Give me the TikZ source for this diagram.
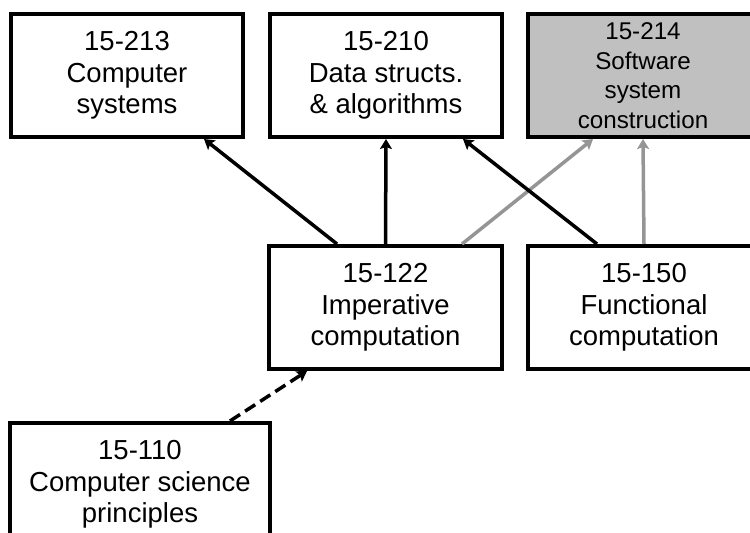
\documentclass[tikz,border=0pt]{standalone}
\usepackage{fontspec}
\setmainfont{Liberation Sans}
\usetikzlibrary{arrows.meta}
\definecolor{boxgrey}{HTML}{C0C0C0}
\definecolor{arrgrey}{HTML}{959595}
\begin{document}
\begin{tikzpicture}[x=1pt,y=-1pt,
  course/.style={draw=black,line width=4pt,rectangle,minimum width=232pt,minimum height=123pt,
    align=center,inner sep=0pt,font=\fontsize{27.5}{31.5}\selectfont},
  smallcourse/.style={course,font=\fontsize{24.2}{29.5}\selectfont},
  req/.style={line width=3.5pt,-{Stealth[length=10pt,width=12pt,inset=2pt]}},
  greyreq/.style={req,draw=arrgrey},
  optreq/.style={req,dash pattern=on 12pt off 6pt}]
\useasboundingbox (0,0) rectangle (750,533);
\node[course] (n213) at (127,75.5) {15-213\\Computer\\systems};
\node[course] (n210) at (386,75.5) {15-210\\Data structs.\\\& algorithms};
\node[smallcourse,fill=boxgrey,minimum width=230pt] (n214) at (643,75.5) {15-214\\Software\\system\\construction};
\node[course,minimum width=233pt] (n122) at (385.5,307.5) {15-122\\Imperative\\computation};
\node[course] (n150) at (644,307.5) {15-150\\Functional\\computation};
\node[course,minimum width=260pt] (n110) at (140,484.5) {15-110\\Computer science\\principles};
\draw[req] ([xshift=-48.5pt]n122.north) -- ([xshift=77pt]n213.south);
\draw[req] (n122.north) -- (n210.south);
\draw[greyreq] ([xshift=76.5pt]n122.north) -- ([xshift=-50pt]n214.south);
\draw[req] ([xshift=-47pt]n150.north) -- ([xshift=77pt]n210.south);
\draw[greyreq] (n150.north) -- (n214.south);
\draw[optreq] ([xshift=90pt]n110.north) -- ([xshift=-78.5pt]n122.south);
\end{tikzpicture}
\end{document}
